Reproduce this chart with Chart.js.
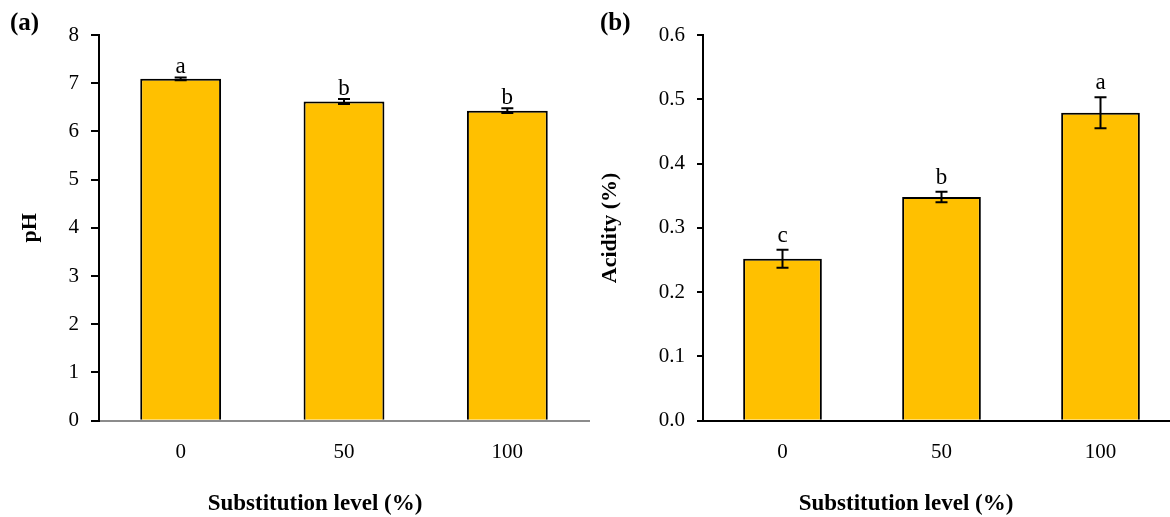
<!DOCTYPE html>
<html>
<head>
<meta charset="utf-8">
<script src="https://cdn.jsdelivr.net/npm/chart.js@4.4.1/dist/chart.umd.min.js"></script>
<style>
  html, body { margin: 0; padding: 0; background: #fff; width: 1170px; height: 517px; overflow: hidden; }
  #wrap { position: relative; width: 1170px; height: 517px; overflow: hidden; }
  #phChart { position: absolute; left: 0; top: 0; }
  #acChart { position: absolute; left: 560px; top: 0; }
</style>
</head>
<body>
<div id="wrap">
  <canvas id="phChart" width="600" height="517"></canvas>
  <canvas id="acChart" width="692" height="517"></canvas>
</div>
<script>
// Substitution levels (%)
const levels = ['0', '50', '100'];

// pH: means, standard errors, significance letters
const phMeans = [7.09, 6.62, 6.43];
const phErrors = [0.03, 0.05, 0.05];
const phLetters = ['a', 'b', 'b'];
const phTicks = [0, 1, 2, 3, 4, 5, 6, 7, 8];

// Titratable acidity (%): means, standard errors, significance letters
const acidityMeans = [0.252, 0.348, 0.479];
const acidityErrors = [0.014, 0.008, 0.024];
const acidityLetters = ['c', 'b', 'a'];
const acidityTicks = [0, 0.1, 0.2, 0.3, 0.4, 0.5, 0.6];

const SERIF = '"Liberation Serif", "Times New Roman", serif';
const BAR_FILL = '#FFC000';

// Error bars, significance letters and the panel tag
const annotate = {
  id: 'annotate',
  afterDatasetsDraw(chart, args, opts) {
    const ctx = chart.ctx;
    const meta = chart.getDatasetMeta(0);
    const y = chart.scales.y;
    ctx.save();
    ctx.strokeStyle = '#000';
    ctx.lineWidth = 2;
    meta.data.forEach((bar, i) => {
      const m = opts.means[i], e = opts.errors[i];
      const yTop = y.getPixelForValue(m + e);
      const yBot = y.getPixelForValue(m - e);
      ctx.beginPath();
      ctx.moveTo(bar.x, yTop); ctx.lineTo(bar.x, yBot);
      ctx.moveTo(bar.x - 6, yTop); ctx.lineTo(bar.x + 6, yTop);
      ctx.moveTo(bar.x - 6, yBot); ctx.lineTo(bar.x + 6, yBot);
      ctx.stroke();
      ctx.fillStyle = '#000';
      ctx.font = '23px ' + SERIF;
      ctx.textAlign = 'center';
      ctx.textBaseline = 'alphabetic';
      ctx.fillText(opts.letters[i], bar.x, yTop - opts.gap);
    });
    ctx.fillStyle = '#000';
    ctx.font = 'bold 25px ' + SERIF;
    ctx.textAlign = 'left';
    ctx.textBaseline = 'middle';
    ctx.fillText(opts.panel, opts.panelX, opts.panelY);
    ctx.restore();
  }
};

function makeChart(canvasId, cfg) {
  return new Chart(document.getElementById(canvasId), {
    type: 'bar',
    data: {
      labels: levels,
      datasets: [{
        data: cfg.means,
        backgroundColor: BAR_FILL,
        borderColor: '#000',
        borderWidth: 2,
        categoryPercentage: 1.0,
        barPercentage: 0.495
      }]
    },
    options: {
      responsive: false,
      animation: false,
      devicePixelRatio: 1,
      layout: { padding: cfg.padding },
      plugins: {
        legend: { display: false },
        tooltip: { enabled: false },
        title: {
          display: true,
          position: 'bottom',
          text: 'Substitution level (%)',
          color: '#000',
          font: { family: SERIF, size: 23, weight: 'bold', lineHeight: 1.1 },
          padding: { top: 0, bottom: 0 }
        },
        annotate: cfg.annotate
      },
      scales: {
        x: {
          z: 1,
          grid: { display: false, drawTicks: false },
          border: { display: true, color: cfg.xAxisColor, width: 2 },
          ticks: { color: '#000', font: { family: SERIF, size: 21 }, padding: 19 },
          afterFit(scale) { scale.height = 71; }
        },
        y: {
          min: cfg.min,
          max: cfg.max,
          afterBuildTicks(scale) { scale.ticks = cfg.ticks.map(v => ({ value: v })); },
          ticks: {
            color: '#000',
            font: { family: SERIF, size: 21 },
            padding: 12,
            callback: cfg.format
          },
          grid: { drawOnChartArea: false, drawTicks: true, tickLength: cfg.tickLength, color: '#000', lineWidth: 2 },
          border: { display: true, color: '#000', width: 2 },
          title: {
            display: true,
            text: cfg.yTitle,
            color: '#000',
            font: { family: SERIF, size: 22, weight: 'bold', lineHeight: 1.2 },
            padding: { top: cfg.yTitleOffset, bottom: 0 }
          },
          afterFit(scale) { scale.width = cfg.yWidth; }
        }
      }
    },
    plugins: [annotate]
  });
}

makeChart('phChart', {
  means: phMeans,
  min: 0, max: 8,
  ticks: phTicks,
  format: v => String(v),
  yTitle: 'pH',
  yTitleOffset: -24,
  yWidth: 58,
  tickLength: 8,
  xAxisColor: '#8c8c8c',
  padding: { left: 41, right: 11, top: 35, bottom: 0 },
  annotate: { means: phMeans, errors: phErrors, letters: phLetters, gap: 4, panel: '(a)', panelX: 10, panelY: 24 }
});

makeChart('acChart', {
  means: acidityMeans,
  min: 0, max: 0.6,
  ticks: acidityTicks,
  format: v => Number(v).toFixed(1),
  yTitle: 'Acidity (%)',
  yTitleOffset: -35,
  yWidth: 71,
  tickLength: 6,
  xAxisColor: '#000',
  padding: { left: 72, right: 72, top: 35, bottom: 0 },
  annotate: { means: acidityMeans, errors: acidityErrors, letters: acidityLetters, gap: 8, panel: '(b)', panelX: 40, panelY: 24 }
});
</script>
</body>
</html>
